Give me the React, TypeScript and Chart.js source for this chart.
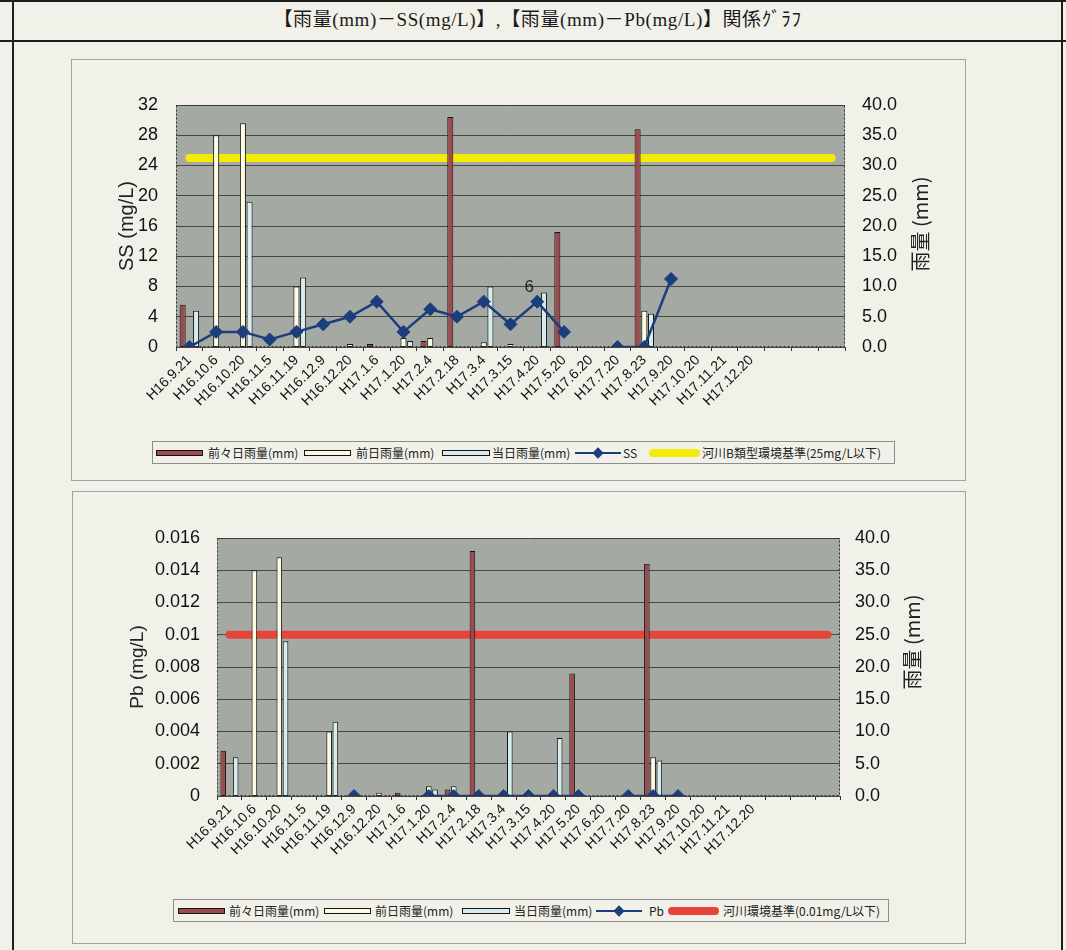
import React, { useEffect, useRef } from 'react';
import { Chart, registerables } from 'chart.js';

Chart.register(...registerables);

// ---------------- DATA ----------------
const categories = [
  'H16.9.21', 'H16.10.6', 'H16.10.20', 'H16.11.5', 'H16.11.19', 'H16.12.9', 'H16.12.20',
  'H17.1.6', 'H17.1.20', 'H17.2.4', 'H17.2.18', 'H17.3.4', 'H17.3.15', 'H17.4.20',
  'H17.5.20', 'H17.6.20', 'H17.7.20', 'H17.8.23', 'H17.9.20', 'H17.10.20', 'H17.11.21',
  'H17.12.20', '', '', '',
];

// 前々日雨量(mm)
const rainTwoDaysBefore = [7, null, null, null, null, null, null, 0.5, null, 1.0, 38, null, null, null, 19, null, null, 36, null, null, null, null, null, null, null];
// 前日雨量(mm)
const rainPrevDay = [null, 35, 37, null, 10, null, 0.5, null, 1.5, 1.5, null, 0.8, 0.5, null, null, null, null, 6, null, null, null, null, null, null, null];
// 当日雨量(mm)
const rainSameDay = [6, null, 24, null, 11.5, null, null, null, 1.0, null, null, 10, null, 9, null, null, null, 5.5, null, null, null, null, null, null, null];

// SS (mg/L)
const ssValues = [0, 2, 2, 1, 2, 3, 4, 6, 2, 5, 4, 6, 3, 6, 2, null, 0, 0, 9, null, null, null, null, null, null];
const ssPointLabels = [null, null, null, null, null, null, null, null, null, null, null, null, null, '6', null, null, null, null, null, null, null, null, null, null, null];
// 河川B類型環境基準 25mg/L
const ssStandard = [25, 25, 25, 25, 25, 25, 25, 25, 25, 25, 25, 25, 25, 25, 25, 25, 25, 25, 25, 25, 25, 25, 25, 25, 25];

// Pb (mg/L)
const pbValues = [null, null, null, null, null, 0, null, null, 0, 0, 0, 0, 0, 0, 0, null, 0, 0, 0, null, null, null, null, null, null];
// 河川環境基準 0.01mg/L
const pbStandard = [0.01, 0.01, 0.01, 0.01, 0.01, 0.01, 0.01, 0.01, 0.01, 0.01, 0.01, 0.01, 0.01, 0.01, 0.01, 0.01, 0.01, 0.01, 0.01, 0.01, 0.01, 0.01, 0.01, 0.01, 0.01];

const ssTickLabels = ['0', '4', '8', '12', '16', '20', '24', '28', '32'];
const pbTickLabels = ['0', '0.002', '0.004', '0.006', '0.008', '0.01', '0.012', '0.014', '0.016'];
const rainTickLabels = ['0.0', '5.0', '10.0', '15.0', '20.0', '25.0', '30.0', '35.0', '40.0'];

const pageTitle = '【雨量(mm)－SS(mg/L)】,【雨量(mm)－Pb(mg/L)】関係ｸﾞﾗﾌ';
const rainLegendLabels = ['前々日雨量(mm)', '前日雨量(mm)', '当日雨量(mm)'];
const ssLegendLabels = ['SS', '河川B類型環境基準(25mg/L以下)'];
const pbLegendLabels = ['Pb', '河川環境基準(0.01mg/L以下)'];

// ---------------- STYLE ----------------
const PAGE_BG = '#f1f1ea';
const PLOT_BG = '#a4aaa3';
const MAROON = '#9d4b4f';
const CREAM = '#fdfbe2';
const LIGHTBLUE = '#d6ecef';
const NAVY = '#1c3e7c';
const YELLOW = '#f3ea06';
const RED = '#e5453a';
const SANS = '"Liberation Sans", Arial, sans-serif';
const CJK = '"Noto Sans CJK JP", sans-serif';

const decorPlugin = {
  id: 'decor',
  beforeDraw(chart: any, _args: any, opts: any) {
    const { ctx, chartArea: a } = chart;
    ctx.save();
    ctx.fillStyle = opts.plotBg;
    ctx.fillRect(a.left, a.top, a.right - a.left, a.bottom - a.top);
    ctx.restore();
  },
  afterDraw(chart: any, _args: any, opts: any) {
    const { ctx, chartArea: a } = chart;
    ctx.save();
    ctx.strokeStyle = '#333';
    ctx.lineWidth = 1;
    ctx.setLineDash([2, 2]);
    ctx.strokeRect(a.left + 0.5, a.top + 0.5, a.right - a.left - 1, a.bottom - a.top - 1);
    ctx.setLineDash([]);
    // side titles (both rotated -90)
    const cy = (a.top + a.bottom) / 2;
    for (const t of opts.titles || []) {
      ctx.save();
      ctx.translate(t.x, cy + (t.dy || 0));
      ctx.rotate(-Math.PI / 2);
      ctx.font = t.font;
      ctx.fillStyle = '#222';
      ctx.textAlign = 'center';
      ctx.textBaseline = 'middle';
      ctx.fillText(t.text, 0, 0);
      ctx.restore();
    }
    // point labels
    if (opts.pointLabels) {
      const meta = chart.getDatasetMeta(opts.pointLabels.datasetIndex);
      ctx.font = `17px ${SANS}`;
      ctx.fillStyle = '#222';
      ctx.textAlign = 'center';
      ctx.textBaseline = 'middle';
      opts.pointLabels.labels.forEach((lab: any, i: number) => {
        if (lab == null) return;
        const el = meta.data[i];
        if (!el) return;
        ctx.fillText(lab, el.x - 8, el.y - 14);
      });
    }
    ctx.restore();
  },
};

type Geo = {
  leftW: number; rightW: number; bottomH: number; top: number;
  leftPad: number; rightPad: number;
};

function buildConfig(kind: 'ss' | 'pb', g: Geo, titles: any[]) {
  const isSS = kind === 'ss';
  const lineValues = isSS ? ssValues : pbValues;
  const stdValues = isSS ? ssStandard : pbStandard;
  const lineLabel = isSS ? ssLegendLabels[0] : pbLegendLabels[0];
  const stdLabel = isSS ? ssLegendLabels[1] : pbLegendLabels[1];
  const leftTicks = isSS ? ssTickLabels : pbTickLabels;
  const barCommon = {
    type: 'bar' as const,
    yAxisID: 'y1',
    borderColor: '#151515',
    borderWidth: 1,
    borderSkipped: false,
    categoryPercentage: 0.75,
    barPercentage: 0.9,
    order: 1,
  };
  return {
    type: 'bar',
    data: {
      labels: categories,
      datasets: [
        { ...barCommon, label: rainLegendLabels[0], data: rainTwoDaysBefore, backgroundColor: MAROON },
        { ...barCommon, label: rainLegendLabels[1], data: rainPrevDay, backgroundColor: CREAM },
        { ...barCommon, label: rainLegendLabels[2], data: rainSameDay, backgroundColor: LIGHTBLUE },
        {
          type: 'line', label: lineLabel, data: lineValues, yAxisID: 'y', order: 0,
          borderColor: NAVY, backgroundColor: NAVY, borderWidth: 2.5,
          pointStyle: 'rectRot', pointRadius: 6.5, pointBackgroundColor: NAVY, pointBorderColor: NAVY,
          pointBorderWidth: 1, spanGaps: false, tension: 0,
        },
        {
          type: 'line', label: stdLabel, data: stdValues, yAxisID: 'y', order: 2,
          borderColor: isSS ? YELLOW : RED, borderWidth: 8, borderCapStyle: 'round',
          pointRadius: 0, tension: 0,
        },
      ],
    },
    options: {
      responsive: false,
      animation: false,
      events: [],
      layout: { padding: { top: g.top, left: 0, right: 0, bottom: 0 } },
      plugins: {
        legend: { display: false },
        tooltip: { enabled: false },
        decor: {
          plotBg: PLOT_BG,
          titles,
          pointLabels: isSS ? { datasetIndex: 3, labels: ssPointLabels } : null,
        },
      },
      scales: {
        x: {
          type: 'category',
          offset: true,
          grid: { display: true, drawOnChartArea: false, drawTicks: true, tickLength: 4, color: '#333', offset: true },
          border: { display: false },
          ticks: {
            autoSkip: false, minRotation: 45, maxRotation: 45, padding: 1,
            color: '#111', font: { family: SANS, size: 14 },
          },
          afterFit: (s: any) => { s.height = g.bottomH; },
        },
        y: {
          position: 'left',
          min: 0,
          max: isSS ? 32 : 0.016,
          ticks: {
            stepSize: isSS ? 4 : 0.002,
            padding: g.leftPad,
            color: '#111',
            font: { family: SANS, size: 18 },
            callback: (_v: any, i: number) => leftTicks[i],
          },
          grid: { color: '#444744', lineWidth: 1, drawTicks: false },
          border: { display: false },
          afterFit: (s: any) => { s.width = g.leftW; },
        },
        y1: {
          position: 'right',
          min: 0,
          max: 40,
          ticks: {
            stepSize: 5,
            padding: g.rightPad,
            color: '#111',
            font: { family: SANS, size: 18 },
            callback: (_v: any, i: number) => rainTickLabels[i],
          },
          grid: { display: false, drawTicks: false },
          border: { display: false },
          afterFit: (s: any) => { s.width = g.rightW; },
        },
      },
    },
    plugins: [decorPlugin],
  };
}

function ChartCanvas({ kind, left, top, width, height, geo, titles }: any) {
  const ref = useRef<HTMLCanvasElement | null>(null);
  useEffect(() => {
    if (!ref.current) return;
    const chart = new Chart(ref.current, buildConfig(kind, geo, titles) as any);
    return () => chart.destroy();
  }, []);
  return (
    <canvas
      ref={ref}
      width={width}
      height={height}
      style={{ position: 'absolute', left, top, width, height }}
    />
  );
}

function Swatch({ color, w }: { color: string; w: number }) {
  return <div style={{ width: w, height: 6, background: color, border: '1px solid #151515', boxSizing: 'border-box' }} />;
}

function LineSymbol({ w }: { w: number }) {
  return (
    <div style={{ position: 'relative', width: w, height: 12 }}>
      <div style={{ position: 'absolute', left: 0, top: 5, width: w, height: 2.5, background: NAVY }} />
      <div style={{ position: 'absolute', left: w / 2 - 4, top: 2, width: 8, height: 8, background: NAVY, transform: 'rotate(45deg)' }} />
    </div>
  );
}

function StdSymbol({ color, w }: { color: string; w: number }) {
  return <div style={{ width: w, height: 8, background: color, borderRadius: 4 }} />;
}

function Legend({ left, top, width, height, pos, lineLabel, stdLabel, stdColor }: any) {
  const item = (x: number, content: any) => (
    <div style={{ position: 'absolute', left: x, top: 0, height: '100%', display: 'flex', alignItems: 'center' }}>{content}</div>
  );
  const text = (s: string) => <span style={{ fontFamily: CJK, fontSize: 12, color: '#222', whiteSpace: 'nowrap', lineHeight: '12px' }}>{s}</span>;
  return (
    <div style={{ position: 'absolute', left, top, width, height, border: '1px solid #8d8d8d', boxSizing: 'border-box', background: PAGE_BG }}>
      {item(pos[0], <Swatch color={MAROON} w={47} />)}
      {item(pos[1], text(rainLegendLabels[0]))}
      {item(pos[2], <Swatch color={CREAM} w={47} />)}
      {item(pos[3], text(rainLegendLabels[1]))}
      {item(pos[4], <Swatch color={LIGHTBLUE} w={48} />)}
      {item(pos[5], text(rainLegendLabels[2]))}
      {item(pos[6], <LineSymbol w={46} />)}
      {item(pos[7], text(lineLabel))}
      {item(pos[8], <StdSymbol color={stdColor} w={51} />)}
      {item(pos[9], text(stdLabel))}
    </div>
  );
}

export default function App() {
  const line = '#1e1e1e';
  return (
    <div style={{ position: 'fixed', left: 0, top: 0, width: 1066, height: 950, background: PAGE_BG, overflow: 'hidden' }}>
      {/* table frame */}
      <div style={{ position: 'absolute', left: 0, top: 0, width: 1066, height: 2, background: line }} />
      <div style={{ position: 'absolute', left: 0, top: 40, width: 1066, height: 2, background: line }} />
      <div style={{ position: 'absolute', left: 12, top: 0, width: 2, height: 950, background: line }} />
      <div style={{ position: 'absolute', left: 1061, top: 0, width: 2, height: 950, background: line }} />
      {/* title */}
      <div style={{
        position: 'absolute', left: 14, top: 7, width: 1047, textAlign: 'center',
        fontFamily: '"Liberation Serif", "Noto Sans CJK JP", serif', fontSize: 19, letterSpacing: 0.6,
        lineHeight: '26px', color: '#1a1a1a',
      }}>{pageTitle}</div>

      {/* chart 1 frame */}
      <div style={{ position: 'absolute', left: 71, top: 59, width: 895, height: 422, border: '1px solid #a2a2a2', boxSizing: 'border-box' }} />
      <ChartCanvas
        kind="ss" left={71} top={59} width={895} height={422}
        geo={{ leftW: 105, rightW: 121, bottomH: 134, top: 46, leftPad: 18, rightPad: 17 }}
        titles={[
          { text: 'SS (mg/L)', x: 56, dy: 0, font: `20px ${SANS}` },
          { text: '雨量 (mm)', x: 849, dy: -2, font: `20px ${CJK}` },
        ]}
      />
      <Legend
        left={152} top={441} width={743} height={23}
        pos={[3, 55, 151, 203, 289, 339, 422, 470, 496, 549]}
        lineLabel={ssLegendLabels[0]} stdLabel={ssLegendLabels[1]} stdColor={YELLOW}
      />

      {/* chart 2 frame */}
      <div style={{ position: 'absolute', left: 72, top: 491, width: 894, height: 453, border: '1px solid #a2a2a2', boxSizing: 'border-box' }} />
      <ChartCanvas
        kind="pb" left={72} top={491} width={894} height={452}
        geo={{ leftW: 145, rightW: 126, bottomH: 147, top: 47, leftPad: 17, rightPad: 15 }}
        titles={[
          { text: 'Pb (mg/L)', x: 66, dy: 0, font: `19px ${SANS}` },
          { text: '雨量 (mm)', x: 840, dy: -25, font: `20px ${CJK}` },
        ]}
      />
      <Legend
        left={173} top={899} width={716} height={23}
        pos={[4, 55, 150, 201, 288, 340, 422, 475, 494, 549]}
        lineLabel={pbLegendLabels[0]} stdLabel={pbLegendLabels[1]} stdColor={RED}
      />
    </div>
  );
}
